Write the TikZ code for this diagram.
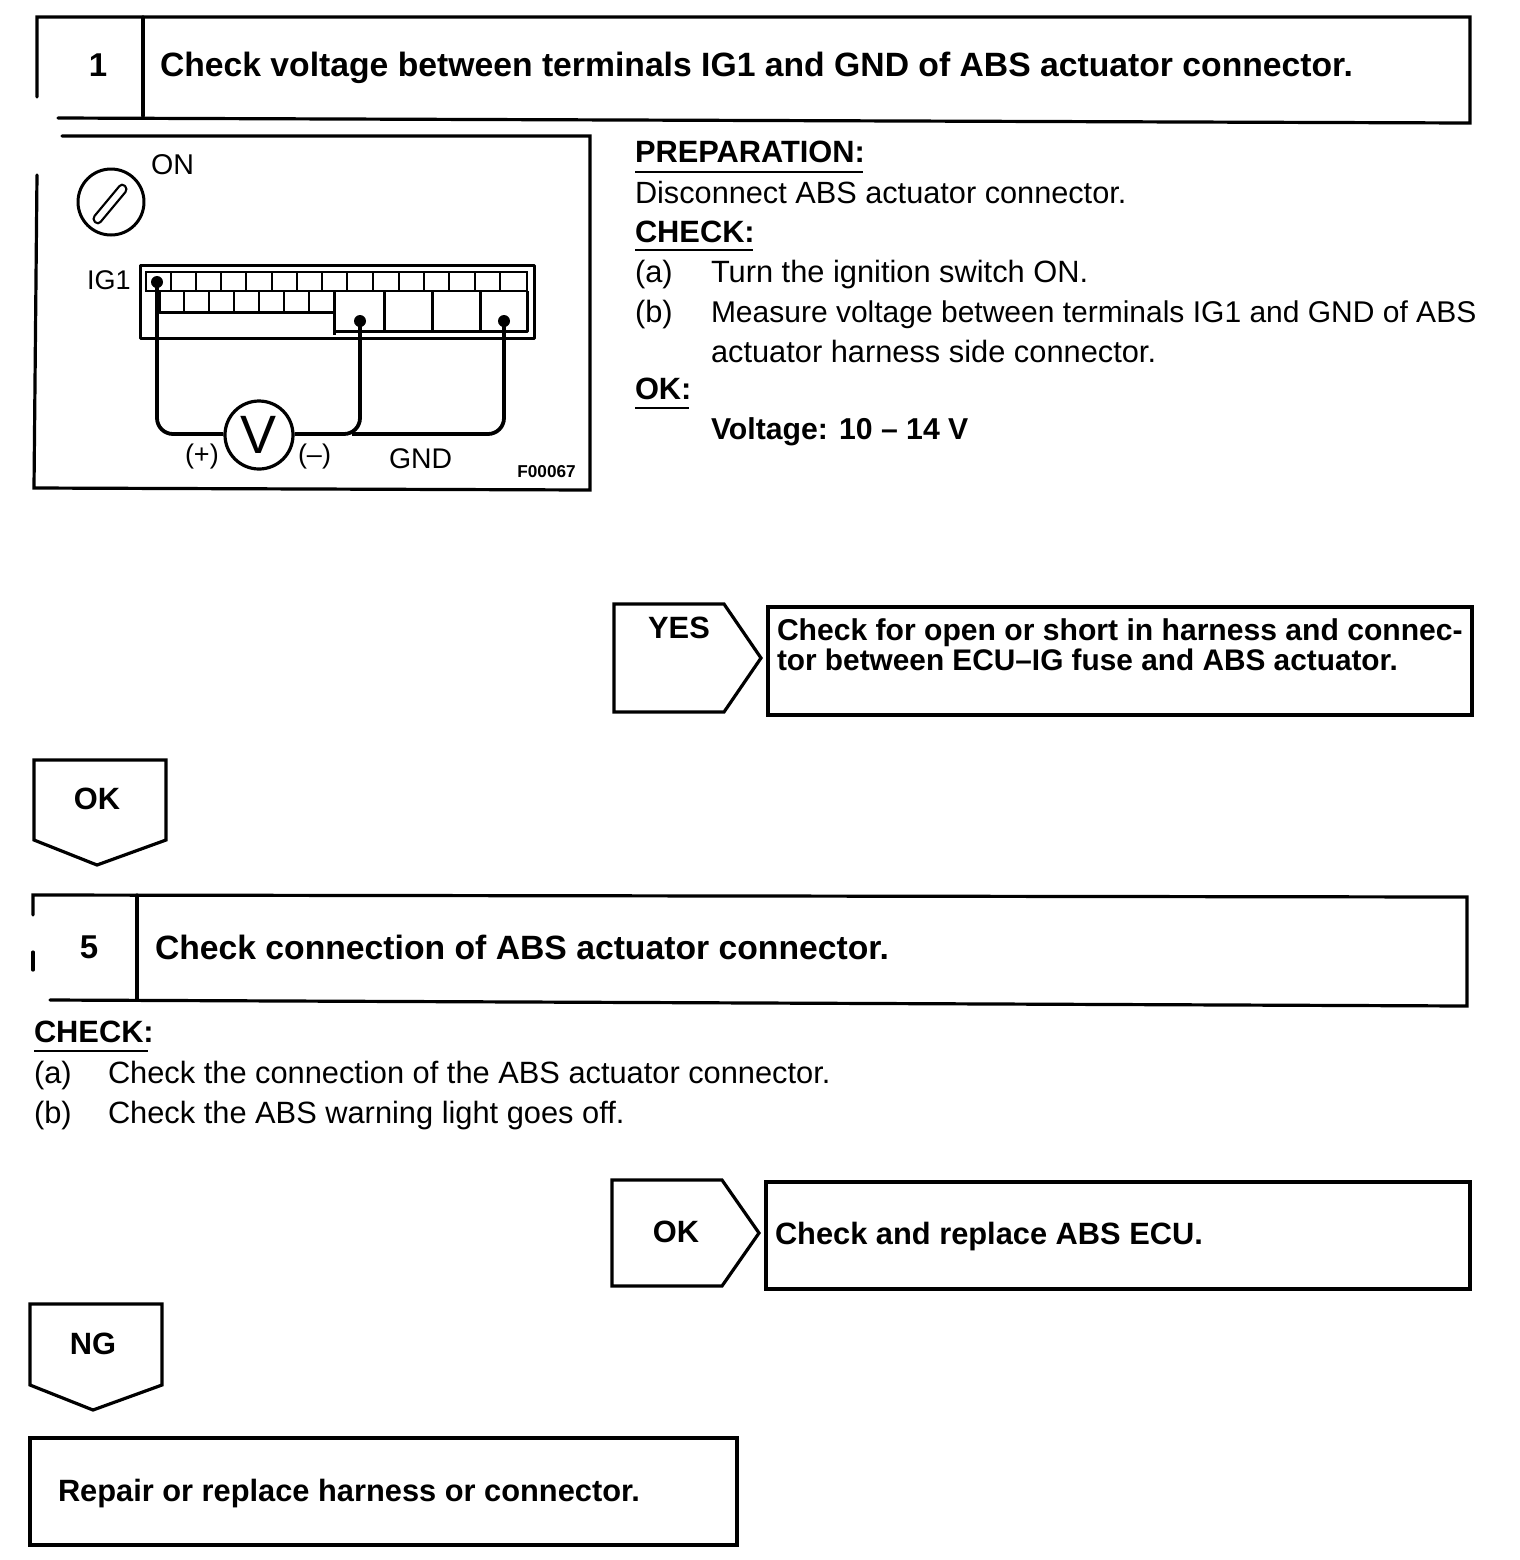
\documentclass[tikz,border=0pt]{standalone}
\usepackage{fontspec}
\setmainfont{Liberation Sans}
\newcommand{\fsz}[1]{\fontsize{#1}{18}\selectfont}
\tikzset{
 x=0.5pt,y=-0.5pt,
 heavy/.style={line width=1.6pt,line cap=round,line join=miter},
 mid/.style={line width=1.5pt,line join=round},
 cell/.style={line width=1.05pt},
 rule/.style={line width=1pt},
 bodytxt/.style={anchor=base west,inner sep=0pt,outer sep=0pt,font=\fsz{15.4}},
 boldtxt/.style={bodytxt,font=\fsz{15.4}\bfseries},
 headtxt/.style={anchor=base west,inner sep=0pt,outer sep=0pt,font=\fsz{16.85}\bfseries},
 numtxt/.style={anchor=center,inner sep=0pt,outer sep=0pt,font=\fsz{16.5}\bfseries},
 termdot/.style={circle,fill=black,inner sep=0pt,minimum size=6pt},
}
\begin{document}
\begin{tikzpicture}
\useasboundingbox (0,0) rectangle (1520,1560);
\fill[white] (0,0) rectangle (1520,1560);
% Header 1
\draw[heavy] (37,97) -- (37,17) -- (1470,17) -- (1470,123) -- (58,118);
\draw[heavy] (143,17) -- (143,116);
\node[numtxt] (n1) at (98,65) {1};
\node[headtxt] (h1) at (160,76) {Check voltage between terminals IG1 and GND of ABS actuator connector.};
% Figure frame
\draw[heavy] (62,136) -- (590,136) -- (590,490) -- (34,488) -- (37,175);
\node[bodytxt,font=\fsz{14.3}] (on) at (151,174) {ON};
\draw[mid] (111,202) circle (33);
\draw[cell,rounded corners=2pt] (92,219) -- (122,183) -- (128,189) -- (98,225) -- cycle;
\node[bodytxt,font=\fsz{13.5}] (ig) at (87,289) {IG1};
% Connector
\draw[mid] (140,265) rectangle (534,338);
\draw[cell] (146,272) rectangle (527,291);
\foreach \x in {171,196,221,246,272,297,322,347,373,399,424,449,475,500}
  \draw[cell] (\x,272) -- (\x,291);
\draw[mid] (159,291) -- (159,312) -- (334,312);
\foreach \x in {184,209,234,259,284,309,334}
  \draw[cell] (\x,291) -- (\x,312);
\draw[mid] (334,291) -- (334,335);
\draw[mid] (334,331) -- (527,331) -- (527,291);
\foreach \x in {384,432,480}
  \draw[mid] (\x,291) -- (\x,331);
% Meter and wires
\node[termdot] (t1) at (157,282) {};
\node[termdot] (t2) at (360,321) {};
\node[termdot] (t3) at (504,321) {};
\node[circle,draw,line width=1.6pt,minimum size=34pt,inner sep=0pt,font=\fsz{27}] (vm) at (259,435) {V};
\draw[mid,line width=1.9pt,rounded corners=8pt] (t1.center) -- (157,434) -- (vm.west |- 0,434);
\draw[mid,line width=1.9pt,rounded corners=8pt] (t2.center) -- (360,434) -- (vm.east |- 0,434);
\draw[mid,line width=1.9pt,rounded corners=8pt] (t3.center) -- (504,434) -- (352,434);
\node[bodytxt,font=\fsz{13.5}] (pl) at (185,463) {(+)};
\node[bodytxt,font=\fsz{13.5}] (mn) at (298,463) {(–)};
\node[bodytxt,font=\fsz{14.2}] (gnd) at (389,468) {GND};
\node[anchor=base west,inner sep=0pt,font=\fsz{8.6}\bfseries] (fig) at (517,477) {F00067};
% Right text
\node[boldtxt] (prep) at (635,162) {PREPARATION:};
\draw[rule] (635,172) -- (863,172);
\node[bodytxt,font=\fsz{15.35}] (dis) at (635,203) {Disconnect ABS actuator connector.};
\node[boldtxt] (chk) at (635,242) {CHECK:};
\draw[rule] (635,250) -- (753,250);
\node[bodytxt] (a) at (635,282) {(a)};
\node[bodytxt] (at) at (711,282) {Turn the ignition switch ON.};
\node[bodytxt] (b) at (635,322) {(b)};
\node[bodytxt,font=\fsz{15}] (bt) at (711,322) {Measure voltage between terminals IG1 and GND of ABS};
\node[bodytxt] (bt2) at (711,362) {actuator harness side connector.};
\node[boldtxt] (ok0) at (635,399) {OK:};
\draw[rule] (635,408) -- (689,408);
\node[boldtxt,font=\fsz{15.1}\bfseries] (volt) at (711,439) {Voltage: 10 – 14 V};
% YES
\draw[heavy] (614,604) -- (724,604) -- (761,658) -- (724,712) -- (614,712) -- cycle;
\node[boldtxt,anchor=center] (yes) at (679,628) {YES};
\draw[heavy] (768,607) rectangle (1472,715);
\node[boldtxt,font=\fsz{15.05}\bfseries] (y1) at (777,640) {Check for open or short in harness and connec-};
\node[boldtxt,font=\fsz{14.9}\bfseries] (y2) at (777,670) {tor between ECU–IG fuse and ABS actuator.};
% OK down
\draw[heavy] (34,760) -- (166,760) -- (166,840) -- (97,865) -- (34,840) -- cycle;
\node[boldtxt,anchor=center] (okd) at (97,799) {OK};
% Header 5
\draw[heavy] (33,915) -- (33,895) -- (1467,897) -- (1467,1006) -- (50,1000);
\draw[heavy] (33,952) -- (33,970);
\draw[heavy] (137,895) -- (137,1000);
\node[numtxt] (n5) at (89,947) {5};
\node[headtxt] (h5) at (155,959) {Check connection of ABS actuator connector.};
% Check 5
\node[boldtxt] (c5) at (34,1042) {CHECK:};
\draw[rule] (34,1051) -- (148,1051);
\node[bodytxt] (a5) at (34,1083) {(a)};
\node[bodytxt] (a5t) at (108,1083) {Check the connection of the ABS actuator connector.};
\node[bodytxt] (b5) at (34,1123) {(b)};
\node[bodytxt] (b5t) at (108,1123) {Check the ABS warning light goes off.};
% OK right
\draw[heavy] (612,1180) -- (722,1180) -- (759,1233) -- (722,1286) -- (612,1286) -- cycle;
\node[boldtxt,anchor=center] (okr) at (676,1232) {OK};
\draw[heavy] (766,1182) rectangle (1470,1289);
\node[boldtxt] (okt) at (775,1244) {Check and replace ABS ECU.};
% NG
\draw[heavy] (30,1304) -- (162,1304) -- (162,1385) -- (93,1410) -- (30,1385) -- cycle;
\node[boldtxt,anchor=center] (ng) at (93,1344) {NG};
\draw[heavy] (30,1438) rectangle (737,1545);
\node[boldtxt] (ngt) at (58,1501) {Repair or replace harness or connector.};
\end{tikzpicture}
\end{document}
